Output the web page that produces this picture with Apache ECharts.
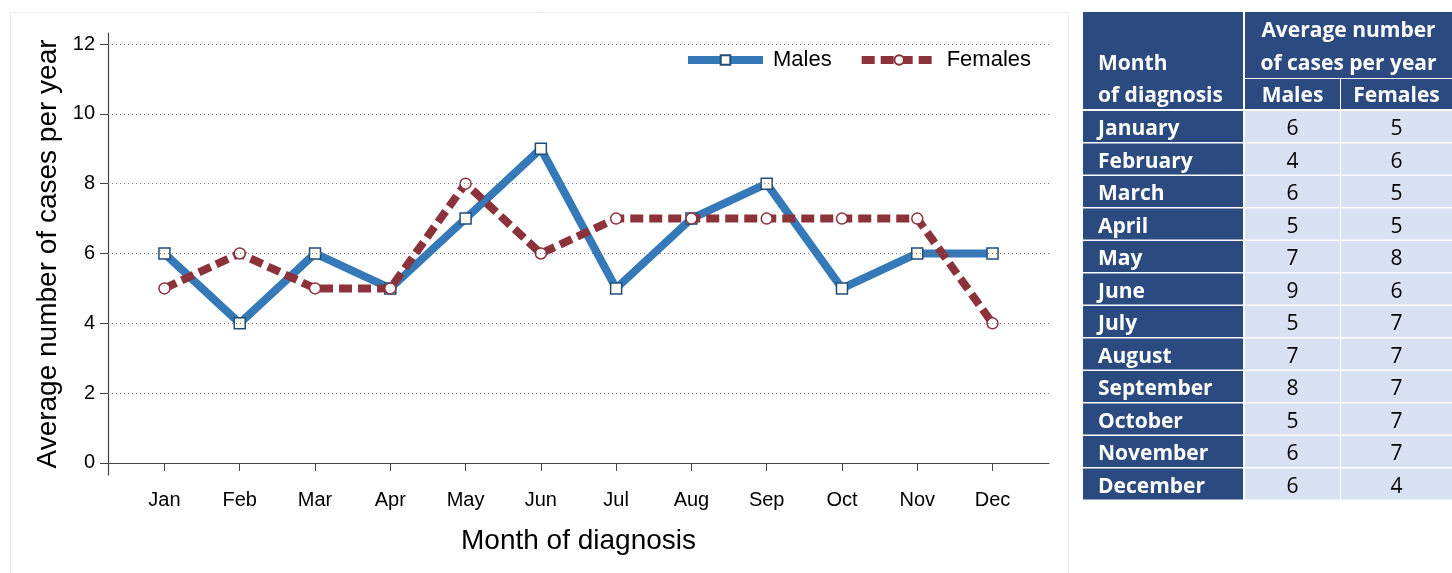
<!DOCTYPE html>
<html>
<head>
<meta charset="utf-8">
<script src="https://cdn.jsdelivr.net/npm/echarts@6/dist/echarts.min.js"></script>
<style>
html,body{margin:0;padding:0;background:#fff;}
#chart{width:1452px;height:573px;}
</style>
</head>
<body>
<div id="chart"></div>
<script>
// ---- data ----
var monthsShort = ['Jan','Feb','Mar','Apr','May','Jun','Jul','Aug','Sep','Oct','Nov','Dec'];
var monthsFull = ['January','February','March','April','May','June','July','August','September','October','November','December'];
var males = [6,4,6,5,7,9,5,7,8,5,6,6];
var females = [5,6,5,5,8,6,7,7,7,7,7,4];
var yTicks = [0,2,4,6,8,10,12];
var seriesNames = ['Males','Females'];
var tableHeaderMain = ['Month','of diagnosis'];
var tableHeaderAvg = ['Average number','of cases per year'];

// ---- chart ----
var chart = echarts.init(document.getElementById('chart'), null, {renderer:'canvas'});
var xVals = monthsShort.map(function(_, i){ return i + 1; });
function pairs(arr){ return arr.map(function(v, i){ return [i + 1, v]; }); }

var FONT = '"Liberation Sans", Arial, sans-serif';
var TFONT = '"Open Sans", sans-serif';

// table geometry
var colX = [1083, 1245, 1341];
var colW = [160, 95, 111];
var headTop = 12, headRow1H = 66, headRow2Top = 79, headRow2H = 30;
var rowTop = 111, rowH = 32.5;
var dark = '#2a4a80', light = '#d9e2f3';

var graphics = [];
// chart panel border
graphics.push({type:'rect', shape:{x:10.5, y:12.5, width:1058, height:570}, style:{fill:null, stroke:'#ececec', lineWidth:1}, z:-10});
// header blocks
graphics.push({type:'rect', shape:{x:colX[0], y:headTop, width:colW[0], height:headRow2Top + headRow2H - headTop}, style:{fill:dark}});
graphics.push({type:'rect', shape:{x:colX[1], y:headTop, width:colX[2] + colW[2] - colX[1], height:headRow1H}, style:{fill:dark}});
graphics.push({type:'rect', shape:{x:colX[1], y:headRow2Top, width:colW[1], height:headRow2H}, style:{fill:dark}});
graphics.push({type:'rect', shape:{x:colX[2], y:headRow2Top, width:colW[2], height:headRow2H}, style:{fill:dark}});
// header texts
graphics.push({type:'text', x:colX[0] + 15, y:64, style:{text:tableHeaderMain[0], fill:'#fff', font:'bold 21px ' + TFONT, textVerticalAlign:'middle'}});
graphics.push({type:'text', x:colX[0] + 15, y:96, style:{text:tableHeaderMain[1], fill:'#fff', font:'bold 21px ' + TFONT, textVerticalAlign:'middle'}});
var avgCx = (colX[1] + colX[2] + colW[2]) / 2;
graphics.push({type:'text', x:avgCx, y:31, style:{text:tableHeaderAvg[0], fill:'#fff', font:'bold 21px ' + TFONT, textAlign:'center', textVerticalAlign:'middle'}});
graphics.push({type:'text', x:avgCx, y:64, style:{text:tableHeaderAvg[1], fill:'#fff', font:'bold 21px ' + TFONT, textAlign:'center', textVerticalAlign:'middle'}});
graphics.push({type:'text', x:colX[1] + colW[1] / 2, y:96, style:{text:seriesNames[0], fill:'#fff', font:'bold 21px ' + TFONT, textAlign:'center', textVerticalAlign:'middle'}});
graphics.push({type:'text', x:colX[2] + colW[2] / 2, y:96, style:{text:seriesNames[1], fill:'#fff', font:'bold 21px ' + TFONT, textAlign:'center', textVerticalAlign:'middle'}});
// data rows
monthsFull.forEach(function(m, i){
  var y = rowTop + i * rowH;
  graphics.push({type:'rect', shape:{x:colX[0], y:y, width:colW[0], height:rowH - 1.5}, style:{fill:dark}});
  graphics.push({type:'rect', shape:{x:colX[1], y:y, width:colW[1], height:rowH - 1.5}, style:{fill:light}});
  graphics.push({type:'rect', shape:{x:colX[2], y:y, width:colW[2], height:rowH - 1.5}, style:{fill:light}});
  var cy = y + (rowH - 1.5) / 2 + 3;
  graphics.push({type:'text', x:colX[0] + 15, y:cy, style:{text:m, fill:'#fff', font:'bold 21px ' + TFONT, textVerticalAlign:'middle'}});
  graphics.push({type:'text', x:colX[1] + colW[1] / 2, y:cy, style:{text:String(males[i]), fill:'#000', font:'21px ' + TFONT, textAlign:'center', textVerticalAlign:'middle'}});
  graphics.push({type:'text', x:colX[2] + colW[2] / 2, y:cy, style:{text:String(females[i]), fill:'#000', font:'21px ' + TFONT, textAlign:'center', textVerticalAlign:'middle'}});
});

var option = {
  animation:false,
  backgroundColor:'#fff',
  textStyle:{fontFamily:FONT},
  grid:{left:108, right:403, top:33, bottom:98, containLabel:false},
  legend:{
    data:seriesNames,
    left:679, top:44,
    itemWidth:75, itemHeight:12, itemGap:26,
    lineStyle:{width:8},
    textStyle:{fontSize:22, color:'#000', fontFamily:FONT, padding:[0,0,0,5]}
  },
  xAxis:{
    type:'value', min:0.25, max:12.75,
    name:'Month of diagnosis', nameLocation:'middle', nameGap:52,
    nameTextStyle:{fontSize:28, color:'#000', fontFamily:FONT},
    axisLine:{show:true, lineStyle:{color:'#444', width:1.2}},
    axisTick:{show:true, length:8, customValues:xVals, lineStyle:{color:'#444'}},
    axisLabel:{customValues:xVals, fontSize:20, color:'#000', margin:15, fontFamily:FONT,
      formatter:function(v){ return monthsShort[Math.round(v) - 1] || ''; }},
    splitLine:{show:false}
  },
  yAxis:{
    type:'value', min:-0.345, max:12.315,
    name:'Average number of cases per year', nameLocation:'middle', nameGap:45,
    nameTextStyle:{fontSize:28, color:'#000', fontFamily:FONT},
    axisLine:{show:true, lineStyle:{color:'#444', width:1.2}},
    axisTick:{show:true, length:8, customValues:yTicks, lineStyle:{color:'#444'}},
    axisLabel:{customValues:yTicks, fontSize:20, color:'#000', margin:13, fontFamily:FONT},
    splitLine:{show:false}
  },
  graphic:graphics,
  series:[
    {
      name:'grid', type:'line', data:[], z:1, silent:true,
      markLine:{
        silent:true, symbol:['none','none'], label:{show:false},
        lineStyle:{type:[1,3], color:'#777', width:1},
        data:yTicks.filter(function(t){ return t > 0; }).map(function(t){ return {yAxis:t}; }),
        animation:false
      }
    },
    {
      name:seriesNames[0], type:'line', data:pairs(males), z:3,
      symbol:'rect', symbolSize:11, showSymbol:true,
      lineStyle:{color:'#3579b8', width:8},
      itemStyle:{color:'#fdf9ef', borderColor:'#1f4e79', borderWidth:1.5}
    },
    {
      name:seriesNames[1], type:'line', data:pairs(females), z:4,
      symbol:'circle', symbolSize:11, showSymbol:true,
      lineStyle:{color:'#8b323b', width:8, type:[13,6]},
      itemStyle:{color:'#ffffff', borderColor:'#8b323b', borderWidth:1.5}
    }
  ]
};
chart.setOption(option);
</script>
</body>
</html>
